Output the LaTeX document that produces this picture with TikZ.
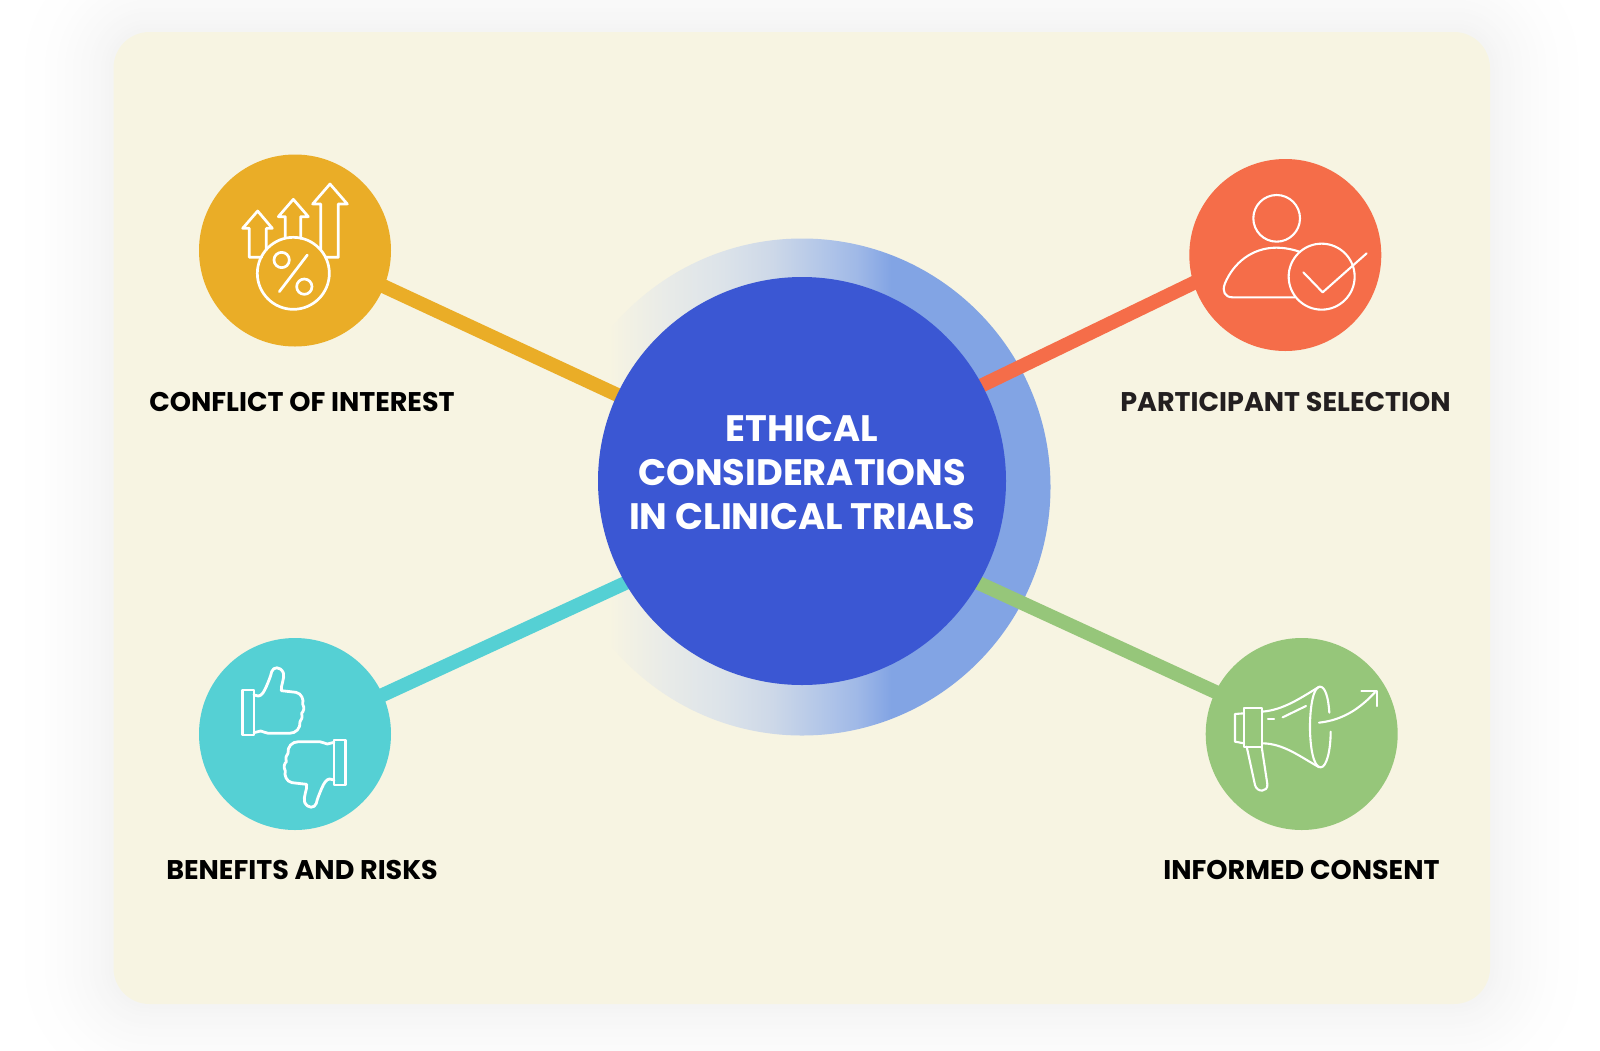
\documentclass[tikz,border=0pt]{standalone}
\usepackage{fontspec}
\setmainfont{Poppins}
\usetikzlibrary{backgrounds}
\definecolor{cardcolor}{HTML}{F7F4E2}
\definecolor{ringcolor}{HTML}{82A4E4}
\pgfdeclarehorizontalshading{ringfade}{100bp}{color(0bp)=(cardcolor); color(30.5bp)=(cardcolor); rgb(36.4bp)=(0.91,0.92,0.91); rgb(42bp)=(0.863,0.89,0.914); rgb(47bp)=(0.804,0.847,0.91); rgb(52.1bp)=(0.698,0.776,0.91); rgb(55.5bp)=(0.627,0.725,0.906); color(59bp)=(ringcolor); color(100bp)=(ringcolor)}
\newcommand{\thumbpath}{(192,195) -- (205,198) .. controls (215,198) and (222,185) .. (228,172) .. controls (235,155) and (242,140) .. (245,125) .. controls (250,110) and (270,108) .. (280,128) .. controls (285,145) and (272,165) .. (274,182) -- (318,187) .. controls (335,190) and (342,210) .. (338,222) .. controls (345,235) and (340,245) .. (335,250) .. controls (338,262) and (335,270) .. (330,275) .. controls (332,295) and (318,310) .. (298,310) -- (235,310) .. controls (225,310) and (220,303) .. (212,303) -- (192,308)}
\begin{document}
\begin{tikzpicture}[x=1pt,y=-1pt,
 icon line/.style={draw=white,line width=2.1pt,line join=round,line cap=round},
 topic circle/.style={circle,minimum size=192pt,inner sep=0pt},
 topic text/.style={font=\fontsize{27}{32}\selectfont\bfseries,inner sep=0pt,anchor=center},
 spoke/.style={line width=14pt,shorten >=-4pt,shorten <=-4pt}]
 \definecolor{trialscolor}{HTML}{3B57D3}
 \definecolor{conflictcolor}{HTML}{EAAD27}
 \definecolor{participantcolor}{HTML}{F56D49}
 \definecolor{benefitscolor}{HTML}{55D0D4}
 \definecolor{informedcolor}{HTML}{96C67A}

 \useasboundingbox (0,0) rectangle (1600,1050);

 \node[topic circle,fill=conflictcolor] (conflict) at (295,250.5) {};
 \node[topic circle,fill=participantcolor] (participant) at (1285.3,255) {};
 \node[topic circle,fill=benefitscolor] (benefits) at (295,734) {};
 \node[topic circle,fill=informedcolor] (informed) at (1301.7,734) {};
 \node[circle,minimum size=408pt,inner sep=0pt,fill=trialscolor] (trials) at (802,481) {};
 \node[text=white,align=center,inner sep=0pt,font=\fontsize{36.8}{44.2}\selectfont\bfseries] (trials text) at (802,472.5) {ETHICAL\\CONSIDERATIONS\\IN CLINICAL TRIALS};

 \begin{scope}[on background layer]
 \clip (0,0) rectangle (1600,1050);
 \fill[white] (0,0) rectangle (1600,1050);
 \foreach \s in {104,100,...,4} {
    \pgfmathsetmacro{\shadowpct}{4.5*(1-\s/108)^2}
    \fill[black!\shadowpct!white,rounded corners=36pt+\s pt] (113.5-\s,32-\s) rectangle (1490+\s,1004+\s);
 }
 \fill[cardcolor,rounded corners=36pt] (113.5,32) rectangle (1490,1004);
 \node[circle,minimum size=497pt,inner sep=0pt,shading=ringfade] (ring) at (802,487) {};
 \draw[spoke,conflictcolor] (conflict.-22) -- (trials.155.5);
 \draw[spoke,participantcolor] (participant.197.3) -- (trials.28.4);
 \draw[spoke,benefitscolor] (benefits.24.5) -- (trials.210);
 \draw[spoke,informedcolor] (informed.154.2) -- (trials.-30);
 \end{scope}

 \node[topic text,text=black] (conflict text) at (302,401.5) {CONFLICT OF INTEREST};
 \node[topic text,text={rgb,255:red,35;green,31;blue,32}] (participant text) at (1285.5,401.5) {PARTICIPANT SELECTION};
 \node[topic text,text=black] (benefits text) at (302,869.5) {BENEFITS AND RISKS};
 \node[topic text,text=black] (informed text) at (1301.5,869.5) {INFORMED CONSENT};

 \begin{scope}[shift={(190,150)},x=0.3333pt,y=-0.3333pt,icon line,line width=2.7pt]
 \draw (215,322) -- (178,322) -- (178,235) -- (158,235) -- (203,183) -- (247,235) -- (229,235) -- (229,298);
 \draw (286,262) -- (286,200) -- (265,200) -- (310,148) -- (355,200) -- (332,200) -- (332,265);
 \draw (392,298) -- (392,162) -- (368,162) -- (420,102) -- (472,162) -- (445,162) -- (445,322) -- (408,322);
 \draw (310,370) circle [radius=108];
 \draw (275,330) circle [radius=23];
 \draw (343,410) circle [radius=23];
 \draw (352,315) -- (268,425);
 \end{scope}

 \begin{scope}[shift={(1180,150)},x=0.3333pt,y=-0.3333pt,icon line]
 \draw (290,205) circle [radius=70];
 \draw (358,305) .. controls (335,297) and (310,293) .. (290,293) .. controls (215,293) and (160,340) .. (135,400) .. controls (125,425) and (135,442) .. (158,442) -- (345,442);
 \draw (425,380) circle [radius=99];
 \draw (370,367) -- (428,427) -- (560,310);
 \end{scope}

 \begin{scope}[shift={(190,630)},x=0.3333pt,y=-0.3333pt,icon line,line width=2.8pt]
 \draw (158,180) rectangle (192,315);
 \draw \thumbpath;
 \begin{scope}[rotate around={180:(312,322.5)}]
 \draw (158,180) rectangle (192,315);
 \draw \thumbpath;
 \end{scope}
 \end{scope}

 \begin{scope}[shift={(1200,630)},x=0.3333pt,y=-0.3333pt,icon line]
 \draw (132,250) -- (105,252) -- (105,335) -- (132,340);
 \draw (132,233) rectangle (186,350);
 \draw (186,245) .. controls (250,240) and (300,205) .. (358,170);
 \draw (186,340) .. controls (250,340) and (300,380) .. (358,412);
 \draw (388,248) .. controls (385,200) and (375,170) .. (360,170) .. controls (340,170) and (330,230) .. (330,291) .. controls (330,350) and (340,412) .. (362,412) .. controls (380,412) and (392,360) .. (392,305);
 \draw (140,350) -- (165,465) .. controls (170,488) and (205,488) .. (202,462) -- (185,350);
 \draw (357,278) .. controls (430,270) and (480,235) .. (525,187);
 \draw (484,182) -- (530,182) -- (530,228);
 \draw (204,266) -- (222,266);
 \draw (248,262) -- (318,228);
 \end{scope}
\end{tikzpicture}
\end{document}
